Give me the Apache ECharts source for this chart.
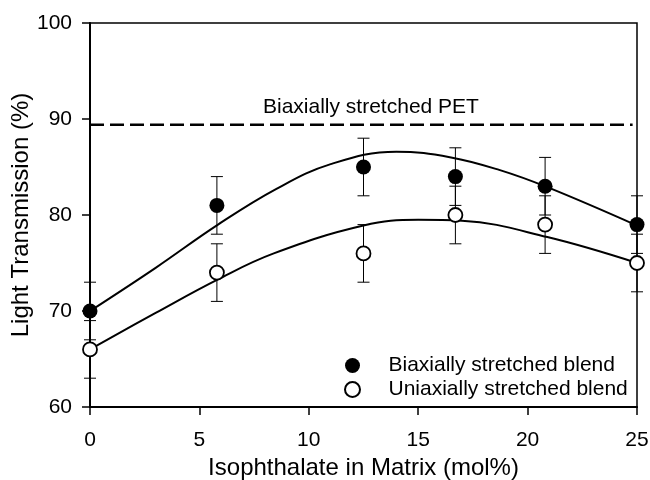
<!DOCTYPE html>
<html>
<head>
<meta charset="utf-8">
<script src="https://cdn.jsdelivr.net/npm/echarts@6/dist/echarts.min.js"></script>
<style>
  html, body { margin: 0; padding: 0; background: #fff; }
  #chart { width: 650px; height: 480px; }
</style>
</head>
<body>
<div id="chart"></div>
<script>
// measured points
var xVals = [0, 5.8, 12.5, 16.7, 20.8, 25];
var biaxial = [70, 81, 85, 84, 83, 79];
var uniaxial = [66, 74, 76, 80, 79, 75];
var errBi = [3, 3, 3, 3, 3, 3];
var errUni = [3, 3, 3, 3, 3, 3];

// fitted curves
var fitBiX = [0, 3, 5.85, 8.5, 11, 14, 16.5, 18.7, 20.9, 25];
var fitBiY = [70, 74.5, 79.0, 82.7, 85.3, 86.6, 86.0, 84.7, 82.9, 78.9];
var fitUniX = [0, 3, 5.85, 8.4, 12.5, 15, 17, 20.9, 25];
var fitUniY = [66, 69.8, 73.3, 76.0, 78.9, 79.5, 79.4, 77.7, 75];

var petX = [0, 24.8];
var petY = [89.4, 89.4];

var xTicks = [0, 5, 10, 15, 20, 25];
var yTicks = [60, 70, 80, 90, 100];

var FONT = 'Liberation Sans';

function pairs(xs, ys) {
  return xs.map(function (x, i) { return [x, ys[i]]; });
}
function errData(xs, ys, es) {
  return xs.map(function (x, i) { return [x, ys[i] - es[i], ys[i] + es[i]]; });
}

function renderErr(params, api) {
  var x = api.value(0);
  var lo = api.coord([x, api.value(1)]);
  var hi = api.coord([x, api.value(2)]);
  var cap = 6;
  var st = { stroke: '#000', lineWidth: 1 };
  return {
    type: 'group',
    children: [
      { type: 'line', shape: { x1: lo[0], y1: lo[1], x2: hi[0], y2: hi[1] }, style: st },
      { type: 'line', shape: { x1: lo[0] - cap, y1: lo[1], x2: lo[0] + cap, y2: lo[1] }, style: st },
      { type: 'line', shape: { x1: hi[0] - cap, y1: hi[1], x2: hi[0] + cap, y2: hi[1] }, style: st }
    ]
  };
}

var chart = echarts.init(document.getElementById('chart'));

var option = {
  animation: false,
  backgroundColor: '#fff',
  textStyle: { fontFamily: FONT, color: '#000' },
  grid: {
    left: 90, right: 13, top: 23, bottom: 73,
    outerBoundsMode: 'none',
    containLabel: false,
    show: true, borderColor: '#000', borderWidth: 1.5, backgroundColor: 'transparent'
  },
  legend: {
    data: ['Biaxially stretched blend', 'Uniaxially stretched blend'],
    orient: 'vertical',
    left: 339,
    top: 350,
    itemWidth: 62,
    itemHeight: 15,
    itemGap: 3,
    textStyle: { fontFamily: FONT, fontSize: 21, color: '#000', lineHeight: 21 }
  },
  xAxis: {
    type: 'value',
    min: 0, max: 25, interval: 5,
    name: 'Isophthalate in Matrix (mol%)',
    nameLocation: 'middle',
    nameGap: 48,
    nameTextStyle: { fontFamily: FONT, fontSize: 24, color: '#000' },
    axisLine: { lineStyle: { color: '#000', width: 2 } },
    axisTick: { length: 8, lineStyle: { color: '#000', width: 1.5 } },
    axisLabel: { fontFamily: FONT, fontSize: 21, color: '#000', margin: 23 },
    splitLine: { show: false }
  },
  yAxis: {
    type: 'value',
    min: 60, max: 100, interval: 10,
    name: 'Light Transmission (%)',
    nameLocation: 'middle',
    nameGap: 57,
    nameMoveOverlap: false,
    nameTextStyle: { fontFamily: FONT, fontSize: 24, color: '#000' },
    axisLine: { lineStyle: { color: '#000', width: 2 } },
    axisTick: { length: 8, lineStyle: { color: '#000', width: 1.5 } },
    axisLabel: { fontFamily: FONT, fontSize: 21, color: '#000', margin: 18 },
    splitLine: { show: false }
  },
  graphic: [{
    type: 'text',
    left: 263,
    top: 97,
    style: { text: 'Biaxially stretched PET', font: '21px "Liberation Sans"', fill: '#000' }
  }],
  series: [
    {
      name: 'pet', type: 'line', data: pairs(petX, petY),
      showSymbol: false, silent: true,
      lineStyle: { color: '#000', width: 2.5, type: [14, 6] }
    },
    {
      name: 'fitBi', type: 'line', data: pairs(fitBiX, fitBiY), smooth: 0.4,
      showSymbol: false, lineStyle: { color: '#000', width: 2 }, z: 2
    },
    {
      name: 'fitUni', type: 'line', data: pairs(fitUniX, fitUniY), smooth: 0.4,
      showSymbol: false, lineStyle: { color: '#000', width: 2 }, z: 2
    },
    {
      name: 'errBi', type: 'custom', data: errData(xVals, biaxial, errBi),
      renderItem: renderErr, z: 3, silent: true
    },
    {
      name: 'errUni', type: 'custom', data: errData(xVals, uniaxial, errUni),
      renderItem: renderErr, z: 3, silent: true
    },
    {
      name: 'Biaxially stretched blend', type: 'scatter', data: pairs(xVals, biaxial),
      symbol: 'circle', symbolSize: 15, z: 5,
      itemStyle: { color: '#000', borderColor: '#000', borderWidth: 0, opacity: 1 }
    },
    {
      name: 'Uniaxially stretched blend', type: 'scatter', data: pairs(xVals, uniaxial),
      symbol: 'circle', symbolSize: 14, z: 5,
      itemStyle: { color: '#fff', borderColor: '#000', borderWidth: 1.8, opacity: 1 }
    }
  ]
};

chart.setOption(option);
</script>
</body>
</html>
